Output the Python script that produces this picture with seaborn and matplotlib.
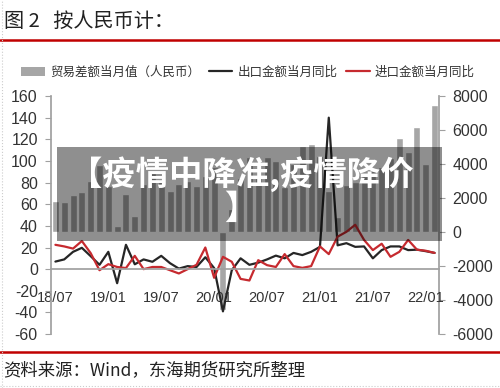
import numpy as np
import pandas as pd
import matplotlib
matplotlib.use("Agg")
import matplotlib.pyplot as plt
from matplotlib.patches import Rectangle, Patch
from matplotlib.lines import Line2D
import seaborn as sns

# 月份（2018/07 - 2022/02）
months = list(pd.date_range("2018-07-01", periods=44, freq="MS").strftime("%y/%m"))

# 贸易差额当月值（亿元，右轴）
balance = [1800, 1750, 2150, 2350, 3000, 3950, 2700, 350, 2230, 950,
           2800, 3450, 3100, 2400, 2800, 3000, 2700, 3300, 3800, -4600,
           1350, 3200, 4400, 3300, 4400, 4150, 2650, 4000, 5050, 5150,
           4500, 2400, 880, 2770, 2970, 3300, 3620, 3800, 4330, 5550,
           4680, 6150, 4000, 7500]

# 出口金额当月同比（%，左轴）
export_yoy = [7, 9, 16, 19.7, 12, 4, 16, -13, 22.5, 4.5,
              9, 6.8, 12.3, 5.5, 0.5, 2.8, 2, 11, 1, -39,
              -1, 10, 4, 6, 9, 12.5, 10, 15, 13, 16,
              20.6, 140, 22, 24, 20.6, 21, 10, 17.6, 21, 21,
              17.6, 18, 16.6, 15]

# 进口金额当月同比（%，左轴）
import_yoy = [22.5, 21, 19, 26, 14.8, -1, 4.6, 2, 1, 12.3,
              0, 2, 2, -1, -4, 0, 4, 20, -8, 11.4,
              6.8, -9, -10.5, 8.3, 3.7, 2, 13.9, 2.8, 1.2, 2.8,
              21, 13.9, 30, 34.5, 41, 27, 17.6, 23.5, 11.4, 16,
              27, 18, 17, 15]

left_ticks = [-60, -40, -20, 0, 20, 40, 60, 80, 100, 120, 140, 160]
right_ticks = [-6000, -4000, -2000, 0, 2000, 4000, 6000, 8000]

df = pd.DataFrame({"month": months, "balance": balance,
                   "export": export_yoy, "import": import_yoy})
df["pos"] = range(len(df))

sns.set_theme(style="white")
plt.rcParams["font.family"] = ["Liberation Sans", "Noto Sans CJK SC", "DejaVu Sans"]
plt.rcParams["axes.unicode_minus"] = False

gray_bar = "#a6a6a6"
red = "#c62a2f"
axis_gray = "#a0a0a0"
text_c = "#333333"

fig = plt.figure(figsize=(5, 3.88), dpi=100)
ax1 = fig.add_axes([0.102, 0.139, 0.776, 0.6135])
ax2 = ax1.twinx()

# 柱：贸易差额
sns.barplot(data=df, x="pos", y="balance", color=gray_bar, width=0.8,
            saturation=1, ax=ax2, native_scale=True)

# 线：出口、进口同比
sns.lineplot(data=df, x="pos", y="export", color="#262626", lw=1.6, ax=ax1)
sns.lineplot(data=df, x="pos", y="import", color=red, lw=1.6, ax=ax1)

ax1.set_zorder(ax2.get_zorder() + 1)
ax1.patch.set_visible(False)

ax1.set_xlim(-0.5, len(df) - 0.5)
ax1.set_ylim(-60, 160)
ax2.set_ylim(-6000, 8000)
ax1.set_yticks(left_ticks)
ax2.set_yticks(right_ticks)

narrow = ["Liberation Sans Narrow", "Liberation Sans"]
for ax in (ax1, ax2):
    ax.set_xlabel("")
    ax.set_ylabel("")
    for s in ax.spines.values():
        s.set_visible(False)
    ax.tick_params(axis="y", length=4, width=0.8, color=axis_gray,
                   labelsize=11.5, labelcolor=text_c, pad=5.5)
    for lab in ax.get_yticklabels():
        lab.set_family(narrow)

ax1.spines["left"].set_visible(True)
ax1.spines["left"].set_color(axis_gray)
ax2.spines["right"].set_visible(True)
ax2.spines["right"].set_color(axis_gray)
ax1.spines["bottom"].set_visible(True)
ax1.spines["bottom"].set_color(axis_gray)
ax1.spines["bottom"].set_position(("data", 0))

label_pos = df["pos"][::6]
ax1.set_xticks(label_pos)
ax1.set_xticklabels(df["month"][::6])
ax1.set_xticks(label_pos - 0.5, minor=True)
ax1.tick_params(axis="x", which="major", length=0, pad=16,
                labelsize=10.5, labelcolor=text_c)
ax1.tick_params(axis="x", which="minor", length=5, width=0.8,
                color=axis_gray, direction="out")
for lab in ax1.get_xticklabels():
    lab.set_family(narrow)

# 标题与分隔线
fig.text(0.008, 1 - 21 / 388, "图 2   按人民币计：", fontsize=14.5,
         color="#222222", va="center", ha="left",
         family=["Noto Sans CJK SC", "DejaVu Sans"])
fig.add_artist(Line2D([0, 1], [1 - 40 / 388] * 2, color="#c00000", lw=1.8))
fig.add_artist(Line2D([0, 1], [1 - 352 / 388] * 2, color="#c00000", lw=1.8))
fig.add_artist(Line2D([0.003, 0.003], [0, 1], color="#cccccc", lw=0.8, ls=":"))
fig.add_artist(Line2D([0, 1], [1 - 386 / 388] * 2, color="#cccccc", lw=0.8, ls=":"))

fig.text(0.006, 1 - 370 / 388, "资料来源：Wind，东海期货研究所整理", fontsize=12.5,
         color="#222222", va="center", ha="left",
         family=["Noto Sans CJK SC", "DejaVu Sans"])

# 图例
handles = [Patch(facecolor=gray_bar, edgecolor="none"),
           Line2D([], [], color="#262626", lw=1.6),
           Line2D([], [], color=red, lw=1.6)]
labels = ["贸易差额当月值（人民币）", "出口金额当月同比", "进口金额当月同比"]
leg = fig.legend(handles, labels, loc="center", bbox_to_anchor=(0.496, 1 - 72 / 388),
                 ncol=3, frameon=False, handlelength=1.9,
                 handletextpad=0.4, columnspacing=0.7,
                 prop={"family": ["Noto Sans CJK SC", "DejaVu Sans"], "size": 9})
for t in leg.get_texts():
    t.set_color(text_c)

# 半透明遮罩与文字
fig.add_artist(Rectangle((57 / 500, 1 - 241 / 388), 385 / 500, 94 / 388,
                         transform=fig.transFigure, facecolor="black",
                         alpha=0.44, edgecolor="none", zorder=5))
fig.text(0.482, 1 - 191 / 388, "【疫情中降准,疫情降价\n】", color="white",
         fontsize=24, fontweight="bold", ha="center", va="center",
         multialignment="center", linespacing=1.05, zorder=6,
         family=["Noto Sans CJK SC", "DejaVu Sans"])

fig.savefig("out.png", dpi=100)
